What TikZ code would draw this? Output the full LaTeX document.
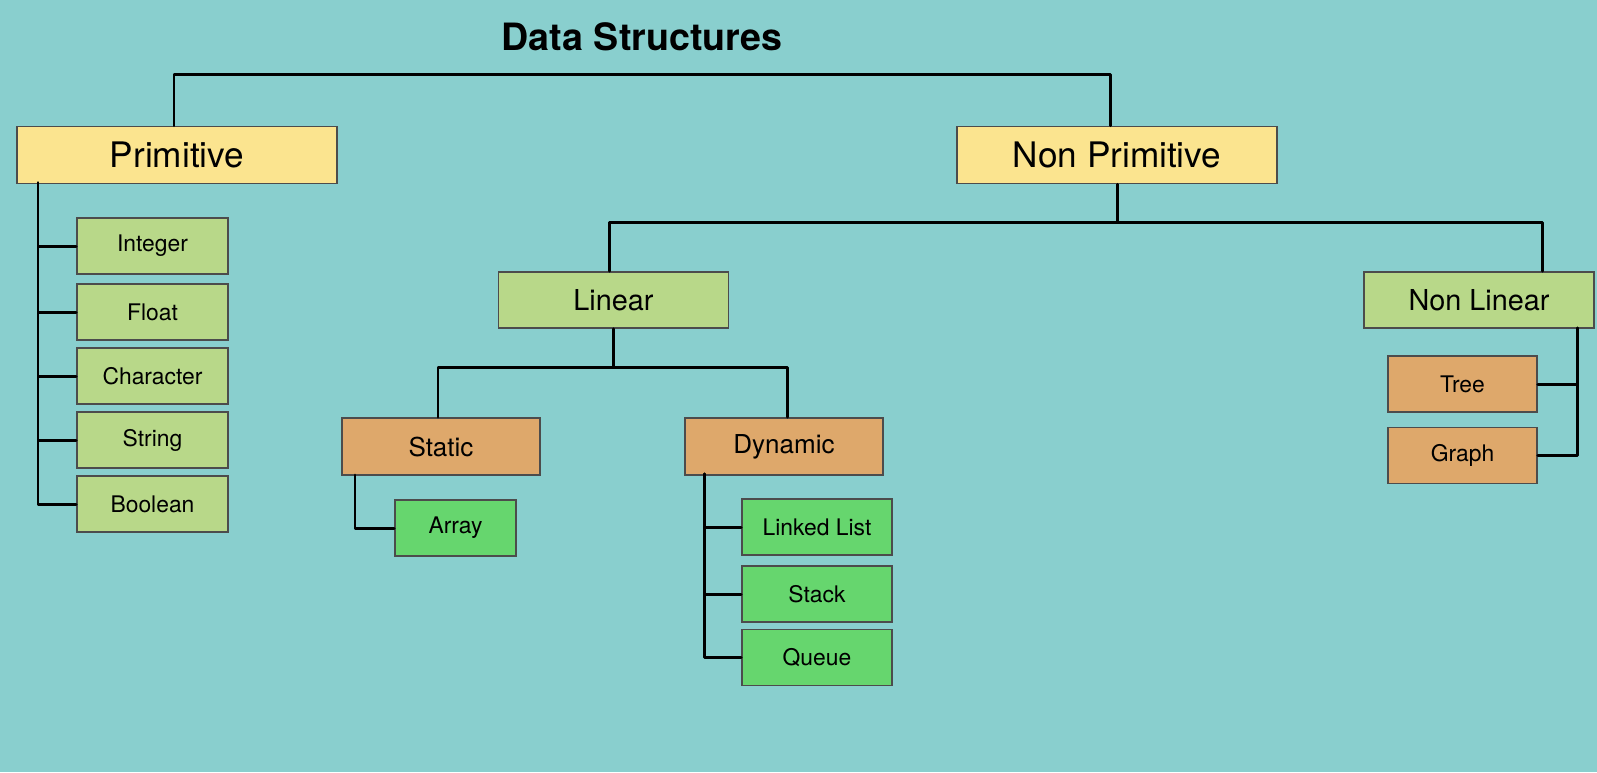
\documentclass[tikz,border=0pt]{standalone}
\usepackage{fontspec}
\setmainfont{TeX Gyre Heros}
\usepackage{xcolor}
\definecolor{bgteal}{HTML}{89CFCE}
\definecolor{headyellow}{HTML}{FBE48F}
\definecolor{softgreen}{HTML}{B8D889}
\definecolor{tanorange}{HTML}{DEA86B}
\definecolor{brightgreen}{HTML}{66D66E}

\begin{document}
\begin{tikzpicture}[
			     x=0.01cm, y=-0.01cm,
			     box/.style={draw=black!70, line width=0.45pt, inner sep=0pt, align=center},
			     head/.style={box, fill=headyellow, minimum width=3.2cm, minimum height=0.57cm, font=\fontsize{10}{12}\selectfont},
			     group/.style={box, fill=softgreen, minimum width=2.3cm, minimum height=0.56cm, font=\fontsize{8.2}{10}\selectfont},
			     kind/.style={box, fill=tanorange, minimum width=1.98cm, minimum height=0.57cm, font=\fontsize{7.4}{9}\selectfont},
			     basic/.style={box, fill=softgreen, minimum width=1.51cm, minimum height=0.56cm, font=\fontsize{6.5}{8}\selectfont},
			     leaf/.style={box, fill=brightgreen, minimum width=1.5cm, minimum height=0.56cm, font=\fontsize{6.5}{8}\selectfont},
			     nleaf/.style={box, fill=tanorange, minimum width=1.49cm, minimum height=0.56cm, font=\fontsize{6.5}{8}\selectfont},
			     link/.style={line width=0.85pt, line cap=round, line join=round}
			     ]
\fill[bgteal] (0,0) rectangle (1597,772);
\useasboundingbox (0,0) rectangle (1597,772);

\node[font=\bfseries\fontsize{10.7}{13}\selectfont] (title) at (642,37) {Data Structures};

\node[head] (prim) at (177,155) {Primitive};
\node[head] (nonprim) at (1117,155) {Non Primitive};

\foreach \name/\y/\txt in {int/246/Integer, flo/312/Float, chr/376/Character, str/440/String, boo/504/Boolean}
  \node[basic] (\name) at (152.5,\y) {\txt};

\node[group] (lin) at (613.5,300) {Linear};
\node[group] (nonlin) at (1479,300) {Non Linear};

\node[kind] (static) at (441,446.5) {Static};
\node[kind] (dynamic) at (784,446.5) {Dynamic};

\node[leaf, minimum width=1.21cm] (array) at (455.5,528) {Array};
\foreach \name/\y/\txt in {llist/527/Linked List, stack/594/Stack, queue/657.5/Queue}
  \node[leaf] (\name) at (817,\y) {\txt};

\node[nleaf] (tree) at (1462.5,384) {Tree};
\node[nleaf] (graph) at (1462.5,455.5) {Graph};

% junctions
\coordinate (top) at (642,74);
\coordinate (pbus) at (38,183);
\coordinate (npbus) at (1117,222);
\coordinate (linbus) at (613.5,367);
\coordinate (sbus) at (355,475);
\coordinate (dbus) at (704,474);
\coordinate (nlbus) at (1577,328);

\draw[link] ([xshift=-0.03cm]prim.north) |- (top) -| ([xshift=-0.07cm]nonprim.north);
\foreach \n in {int,flo,chr,str,boo}
  \draw[link] (pbus) |- (\n.west);

\draw[link] (nonprim.south) -- (npbus);
\draw[link] (npbus) -| ([xshift=-0.04cm]lin.north);
\draw[link] (npbus) -| ([xshift=0.63cm]nonlin.north);

\draw[link] (lin.south) -- (linbus);
\draw[link] (linbus) -| ([xshift=-0.03cm]static.north);
\draw[link] (linbus) -| ([xshift=0.03cm]dynamic.north);

\draw[link] (sbus) |- (array.west);
\foreach \n in {llist,stack,queue}
  \draw[link] (dbus) |- (\n.west);

\foreach \n in {tree,graph}
  \draw[link] (nlbus) |- (\n.east);
\end{tikzpicture}
\end{document}
